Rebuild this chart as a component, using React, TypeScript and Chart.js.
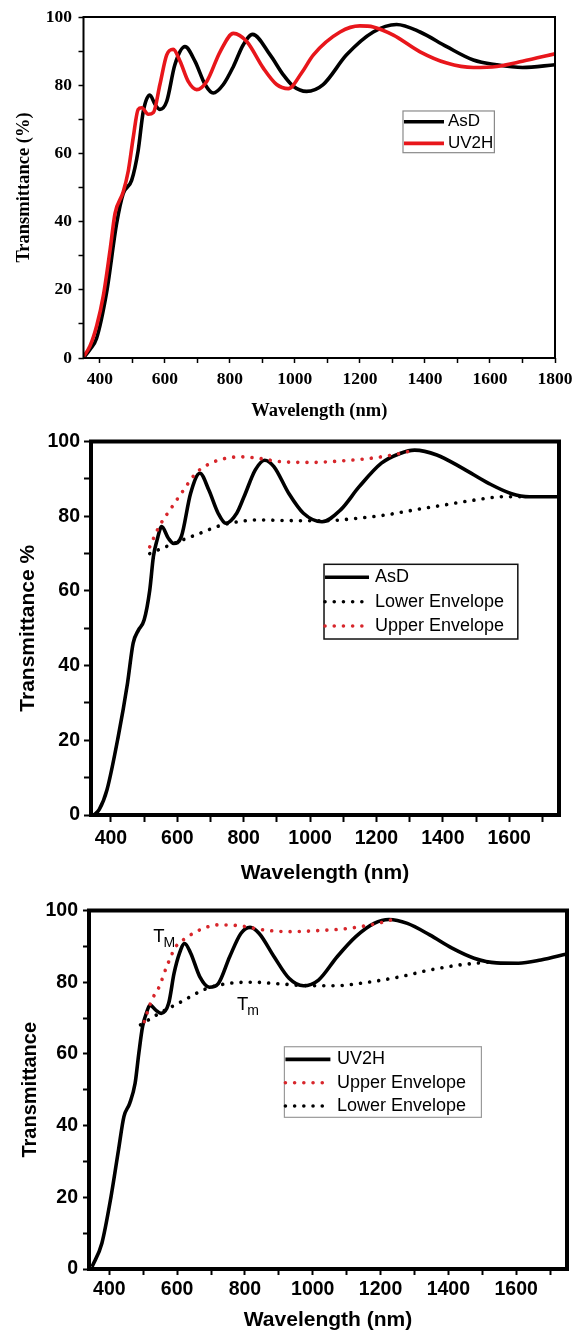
import React, { useEffect, useRef } from 'react';
import { Chart, registerables } from 'chart.js';

Chart.register(...registerables);

const SERIF = "'Liberation Serif', 'Times New Roman', serif";
const SANS = "'Liberation Sans', Arial, Helvetica, sans-serif";

// ---------- Panel 1 (top): AsD vs UV2H ----------
const topAsdWl = [352, 370, 390, 421, 452, 472, 498, 518, 534, 554, 570, 585, 606, 631, 662, 693, 724, 749, 780, 811, 841, 870, 924, 964, 995, 1036, 1087, 1159, 1241, 1313, 1385, 1467, 1549, 1620, 1700, 1800];
const topAsdT = [0.3, 2.5, 5.7, 19.2, 39.5, 48.2, 52.1, 60.8, 72.4, 77.1, 74.4, 72.9, 75.3, 86, 91.3, 87, 80.2, 77.7, 80.2, 85.5, 91.8, 94.9, 88.9, 83.1, 79.7, 78.2, 80.2, 88.9, 95.6, 97.8, 95.6, 91.3, 87.4, 86, 85.2, 86];
const topUvWl = [350, 370, 391, 411, 432, 447, 472, 488, 503, 518, 529, 549, 565, 585, 606, 626, 647, 672, 698, 729, 770, 811, 852, 903, 944, 980, 1020, 1057, 1139, 1200, 1241, 1303, 1385, 1467, 1549, 1621, 1700, 1800];
const topUvT = [0.4, 3.5, 9.6, 18.3, 31.9, 42.4, 48.7, 55, 64.7, 72.9, 73.4, 71.5, 72, 80.2, 88.9, 90.5, 87, 81.1, 78.7, 81.1, 89.8, 95.2, 92.8, 85, 80.2, 79, 83.5, 88.9, 95.6, 97.4, 97.1, 94.7, 89.8, 86.5, 85.2, 85.5, 87, 89.2];

// ---------- Panel 2 (middle): AsD with envelopes ----------
const midAsdWl = [349, 365, 388, 422, 450, 467, 483, 500, 517, 528, 539, 553, 573, 589, 612, 640, 668, 695, 723, 746, 779, 801, 835, 863, 891, 936, 980, 1036, 1092, 1148, 1215, 1271, 1315, 1382, 1460, 1538, 1605, 1661, 1750];
const midAsdT = [0, 1.5, 6.7, 21, 35.3, 46, 49.5, 52.2, 60.2, 69.2, 73.6, 77.2, 74.1, 72.7, 74.5, 86.1, 91.5, 87, 80.8, 78.1, 80.8, 85.2, 92.4, 95, 93.3, 86.1, 80.8, 78.5, 81.7, 87.9, 94.2, 96.8, 97.7, 96.4, 92.8, 88.8, 86.1, 85.2, 85.2];
const midUpWl = [517, 545, 578, 612, 656, 701, 746, 790, 845, 913, 1002, 1092, 1181, 1248, 1315];
const midUpT = [71.8, 77.2, 81.7, 86.1, 91.5, 94.2, 95.5, 95.9, 95.5, 94.6, 94.4, 94.8, 95.5, 96.4, 97.7];
const midLowWl = [517, 589, 656, 734, 845, 958, 1047, 1137, 1225, 1315, 1404, 1494, 1583, 1650];
const midLowT = [70, 72.7, 75, 77.6, 79, 78.8, 78.8, 79.4, 80.3, 81.7, 83, 84.3, 85.2, 85.2];

// ---------- Panel 3 (bottom): UV2H with envelopes ----------
const botUvWl = [349, 378, 405, 427, 443, 460, 476, 487, 498, 509, 520, 537, 553, 575, 591, 607, 622, 640, 667, 695, 722, 755, 788, 815, 842, 886, 930, 973, 1017, 1072, 1127, 1181, 1225, 1279, 1345, 1411, 1476, 1542, 1607, 1673, 1750];
const botUvT = [0.6, 7.2, 20.2, 33.2, 42.5, 46.2, 51.8, 60.2, 67.6, 71.3, 73.6, 72.2, 71.3, 74.1, 82.5, 88.1, 90.8, 88.1, 81.5, 78.6, 79.7, 87.1, 93.6, 95.3, 93.6, 87.1, 81.1, 79, 80.6, 87.1, 92.7, 96.4, 97.5, 96.4, 93.2, 89.5, 86.7, 85.4, 85.3, 86.2, 87.9];
const botUpWl = [503, 525, 547, 569, 596, 624, 667, 722, 788, 853, 930, 1017, 1104, 1170, 1214, 1246];
const botUpT = [69, 75, 78.7, 84.3, 89.9, 92.2, 94.6, 96, 95.7, 94.6, 94.1, 94.4, 95, 96, 96.9, 97.8];
const botLowWl = [492, 547, 613, 689, 755, 820, 908, 995, 1061, 1170, 1257, 1345, 1432, 1530];
const botLowT = [68.1, 71.3, 74.6, 78.3, 79.7, 80, 79.5, 79, 79, 80.1, 81.5, 83.4, 84.8, 85.7];

// annotations (bottom panel)
const markMain = ['T', 'T'];
const markSub = ['M', 'm'];
const markWl = [546, 793];
const markT = [92.7, 73.6];

// tick values
const xTicksTop = [400, 500, 600, 700, 800, 900, 1000, 1100, 1200, 1300, 1400, 1500, 1600, 1700, 1800];
const xTicksLower = [400, 500, 600, 700, 800, 900, 1000, 1100, 1200, 1300, 1400, 1500, 1600, 1700];
const yTicks = [0, 10, 20, 30, 40, 50, 60, 70, 80, 90, 100];

const pts = (xs: number[], ys: number[]) => xs.map((x, i) => ({ x, y: ys[i] }));

const framePlugin = {
  id: 'frame',
  afterDatasetsDraw(chart: any, _a: any, o: any) {
    const { ctx, chartArea } = chart;
    const { left, top, right, bottom } = chartArea;
    ctx.save();
    ctx.strokeStyle = o.color || '#000';
    ctx.lineWidth = o.width || 2;
    ctx.strokeRect(left, top, right - left, bottom - top);
    ctx.restore();
  },
};

const boxLegendPlugin = {
  id: 'boxLegend',
  afterDraw(chart: any, _a: any, o: any) {
    if (!o || !o.items) return;
    const { ctx, chartArea: ca } = chart;
    const bx = ca.left + o.fx * (ca.right - ca.left);
    const by = ca.top + o.fy * (ca.bottom - ca.top);
    ctx.save();
    ctx.fillStyle = '#fff';
    ctx.fillRect(bx, by, o.w, o.h);
    ctx.strokeStyle = o.borderColor;
    ctx.lineWidth = o.borderWidth;
    ctx.strokeRect(bx, by, o.w, o.h);
    o.items.forEach((dsIndex: number, i: number) => {
      const ds = chart.data.datasets[dsIndex];
      const y = by + o.rows[i];
      ctx.beginPath();
      ctx.strokeStyle = ds.borderColor;
      ctx.lineWidth = ds.borderWidth;
      ctx.setLineDash(ds.borderDash || []);
      ctx.lineCap = ds.borderCapStyle || 'butt';
      ctx.moveTo(bx + o.s0, y);
      ctx.lineTo(bx + o.s1, y);
      ctx.stroke();
      ctx.setLineDash([]);
      ctx.fillStyle = '#000';
      ctx.font = o.font;
      ctx.textBaseline = 'middle';
      ctx.textAlign = 'left';
      ctx.fillText(ds.label, bx + o.tx, y);
    });
    ctx.restore();
  },
};

const markPlugin = {
  id: 'marks',
  afterDatasetsDraw(chart: any, _a: any, o: any) {
    if (!o || !o.main) return;
    const { ctx, scales } = chart;
    ctx.save();
    ctx.fillStyle = '#000';
    o.main.forEach((m: string, i: number) => {
      const px = scales.x.getPixelForValue(o.wl[i]);
      const py = scales.y.getPixelForValue(o.t[i]);
      ctx.font = o.font;
      ctx.textAlign = 'center';
      ctx.textBaseline = 'middle';
      ctx.fillText(m, px, py);
      const w = ctx.measureText(m).width;
      ctx.font = o.subFont;
      ctx.textAlign = 'left';
      ctx.fillText(o.sub[i], px + w / 2 - 1, py + o.subDy);
    });
    ctx.restore();
  },
};

function lineDs(label: string, xs: number[], ys: number[], color: string, dotted: boolean, order: number) {
  return {
    label,
    data: pts(xs, ys),
    borderColor: color,
    backgroundColor: color,
    borderWidth: 3.6,
    borderDash: dotted ? [0.01, 9.2] : [],
    borderCapStyle: dotted ? 'round' : 'butt',
    borderJoinStyle: 'round',
    pointRadius: 0,
    fill: false,
    cubicInterpolationMode: 'monotone',
    order,
  };
}

function makeOptions(p: any) {
  const tickFont = { family: p.family, size: p.tickSize, weight: 'bold' as const };
  return {
    animation: false,
    responsive: true,
    maintainAspectRatio: false,
    layout: { autoPadding: false, padding: { top: p.padTop, right: p.padRight, left: 0, bottom: 0 } },
    plugins: {
      legend: { display: false },
      tooltip: { enabled: false },
      frame: { width: p.frameWidth, color: '#000' },
      boxLegend: p.legend,
      marks: p.marks || {},
    },
    scales: {
      x: {
        type: 'linear',
        min: p.xMin,
        max: p.xMax,
        afterBuildTicks: (s: any) => { s.ticks = p.xTicks.map((v: number) => ({ value: v })); },
        afterFit: (s: any) => { s.height = p.xHeight; },
        grid: { display: true, drawOnChartArea: false, drawTicks: true, tickLength: p.xTickLen, tickWidth: p.tickWidth, tickColor: '#000' },
        border: { display: false },
        ticks: {
          color: '#000', font: tickFont, padding: p.xTickPad, maxRotation: 0, autoSkip: false,
          callback: (v: any) => (Number(v) % 200 === 0 ? String(v) : ''),
        },
        title: {
          display: true, text: 'Wavelength (nm)', color: '#000',
          font: { family: p.family, size: p.xTitleSize, weight: 'bold', lineHeight: p.xTitleLH },
          padding: { top: 0, bottom: p.xTitlePad },
        },
      },
      y: {
        type: 'linear',
        min: 0,
        max: 100,
        afterBuildTicks: (s: any) => { s.ticks = yTicks.map((v: number) => ({ value: v })); },
        afterFit: (s: any) => { s.width = p.yWidth; },
        grid: { display: true, drawOnChartArea: false, drawTicks: true, tickLength: p.yTickLen, tickWidth: p.tickWidth, tickColor: '#000' },
        border: { display: false },
        ticks: {
          color: '#000', font: tickFont, padding: p.yTickPad, autoSkip: false,
          callback: (v: any) => (Number(v) % 20 === 0 ? String(v) : ''),
        },
        title: {
          display: true, text: p.yTitle, color: '#000',
          font: { family: p.family, size: p.yTitleSize, weight: 'bold' },
          padding: { top: p.yTitlePad, bottom: 0 },
        },
      },
    },
  };
}

const panels: any[] = [
  {
    top: 0, height: 432,
    family: SERIF, tickSize: 17.5, xTitleSize: 18.5, yTitleSize: 18.5, xTitleLH: 1.2,
    padTop: 13.3, padRight: 26, yWidth: 83.5, xHeight: 74,
    xMin: 350, xMax: 1800, xTicks: xTicksTop,
    xTickLen: 5, xTickPad: 5.5, yTickLen: 5, yTickPad: 6.5, tickWidth: 1.5,
    xTitlePad: 9.9, yTitlePad: 13.5, frameWidth: 2,
    yTitle: 'Transmittance (%)',
    datasets: () => [
      lineDs('AsD', topAsdWl, topAsdT, '#000000', false, 1),
      lineDs('UV2H', topUvWl, topUvT, '#e8161b', false, 0),
    ],
    legend: { items: [0, 1], fx: 0.6776, fy: 0.2756, w: 91.4, h: 41.7, rows: [10.7, 32.4], s0: 1, s1: 41, tx: 45, font: `17px ${SANS}`, borderColor: '#8a8a8a', borderWidth: 1.2 },
  },
  {
    top: 425, height: 467,
    family: SANS, tickSize: 19.5, xTitleSize: 21, yTitleSize: 21, xTitleLH: 1.2,
    padTop: 16.5, padRight: 22, yWidth: 91, xHeight: 77,
    xMin: 340, xMax: 1750, xTicks: xTicksLower,
    xTickLen: 7, xTickPad: 4.6, yTickLen: 7, yTickPad: 4, tickWidth: 2,
    xTitlePad: 6.1, yTitlePad: 15.2, frameWidth: 4,
    yTitle: 'Transmittance %',
    datasets: () => [
      lineDs('AsD', midAsdWl, midAsdT, '#000000', false, 2),
      lineDs('Upper Envelope', midUpWl, midUpT, '#d7262b', true, 0),
      lineDs('Lower Envelope', midLowWl, midLowT, '#000000', true, 1),
    ],
    legend: { items: [0, 2, 1], fx: 0.4979, fy: 0.3288, w: 193.8, h: 74.7, rows: [13, 37.4, 61.7], s0: 1, s1: 45, tx: 51, font: `18px ${SANS}`, borderColor: '#111', borderWidth: 1.5 },
  },
  {
    top: 892, height: 439,
    family: SANS, tickSize: 19.5, xTitleSize: 21, yTitleSize: 20, xTitleLH: 1.0,
    padTop: 18.5, padRight: 14, yWidth: 89, xHeight: 62,
    xMin: 340, xMax: 1750, xTicks: xTicksLower,
    xTickLen: 6, xTickPad: 2.6, yTickLen: 6, yTickPad: 5, tickWidth: 2,
    xTitlePad: 0, yTitlePad: 18.5, frameWidth: 4,
    yTitle: 'Transmittance',
    datasets: () => [
      lineDs('UV2H', botUvWl, botUvT, '#000000', false, 2),
      lineDs('Upper Envelope', botUpWl, botUpT, '#d7262b', true, 0),
      lineDs('Lower Envelope', botLowWl, botLowT, '#000000', true, 1),
    ],
    legend: { items: [0, 1, 2], fx: 0.4088, fy: 0.38, w: 197, h: 70.6, rows: [12.6, 36, 59.3], s0: 1, s1: 46, tx: 52.5, font: `18px ${SANS}`, borderColor: '#9a9a9a', borderWidth: 1.2 },
    marks: { main: markMain, sub: markSub, wl: markWl, t: markT, font: `18.5px ${SANS}`, subFont: `14px ${SANS}`, subDy: 6 },
  },
];

function Panel({ spec }: { spec: any }) {
  const ref = useRef<HTMLCanvasElement | null>(null);
  useEffect(() => {
    if (!ref.current) return;
    const chart = new Chart(ref.current, {
      type: 'line',
      data: { datasets: spec.datasets() },
      options: makeOptions(spec) as any,
      plugins: [framePlugin, boxLegendPlugin, markPlugin] as any,
    });
    return () => chart.destroy();
  }, [spec]);
  return (
    <div style={{ position: 'absolute', left: 0, top: spec.top, width: 581, height: spec.height }}>
      <canvas ref={ref} />
    </div>
  );
}

export default function App() {
  return (
    <div style={{ position: 'absolute', left: 0, top: 0, width: 581, height: 1331, background: '#fff', overflow: 'hidden' }}>
      {panels.map((p, i) => (
        <Panel key={i} spec={p} />
      ))}
    </div>
  );
}
